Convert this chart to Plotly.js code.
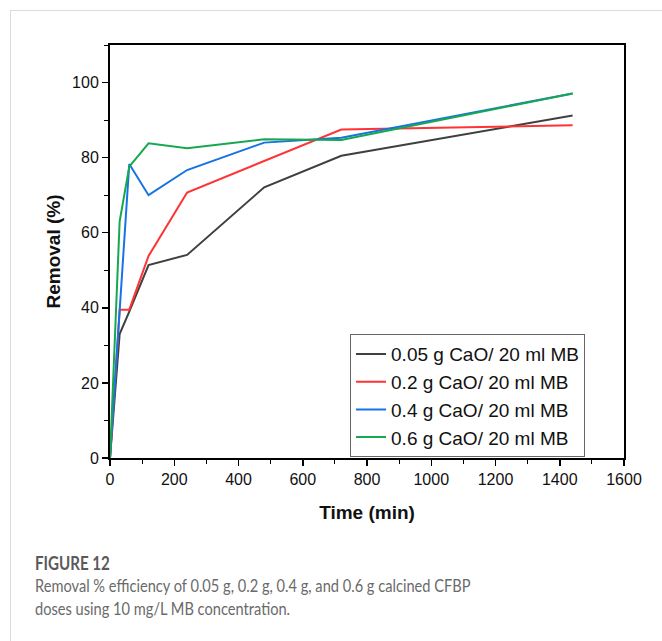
<!DOCTYPE html>
<html><head><meta charset="utf-8">
<script src="https://cdn.plot.ly/plotly-3.0.1.min.js"></script>
<style>
html,body{margin:0;padding:0;background:#fff;}
#frame{position:absolute;left:10px;top:10px;width:800px;height:800px;border:1px solid #dcdcdc;box-sizing:border-box;}
#chart{position:absolute;left:0;top:0;width:662px;height:641px;}
.cap{position:absolute;left:35px;font-family:Lato,'Noto Sans',sans-serif;transform-origin:left center;white-space:nowrap;}
#figlabel{top:552px;font-size:18px;color:#5a5a5a;font-weight:bold;transform:scaleX(0.84);}
#captext{top:574px;font-size:17px;line-height:23px;color:#6a6a6a;transform:scaleX(0.86);transform-origin:left top;}
</style></head>
<body>
<div id="frame"></div>
<div id="chart"></div>
<div id="figlabel" class="cap">FIGURE 12</div>
<div id="captext" class="cap">Removal % efficiency of 0.05 g, 0.2 g, 0.4 g, and 0.6 g calcined CFBP<br>doses using 10 mg/L MB concentration.</div>
<script>
const time = [0, 30, 60, 120, 240, 480, 720, 1440];
const dose005 = [0, 33, 39, 51.4, 54.1, 72.1, 80.5, 91.2];
const dose02  = [0, 39.5, 39.5, 53.8, 70.7, 79, 87.5, 88.6];
const dose04  = [0, 40, 78.3, 70.0, 76.7, 84.0, 85.3, 97.1];
const dose06  = [0, 63, 77.6, 83.8, 82.5, 84.9, 84.7, 97.1];
const seriesNames = ["0.05 g CaO/ 20 ml MB","0.2 g CaO/ 20 ml MB","0.4 g CaO/ 20 ml MB","0.6 g CaO/ 20 ml MB"];
const colors = ["#3f3f3f","#ff3333","#1673e6","#17a84f"];
const ys = [dose005, dose02, dose04, dose06];

const traces = ys.map((y,i)=>({x:time,y:y,name:seriesNames[i],type:'scatter',mode:'lines',
  line:{color:colors[i],width:2}}));

const F = 'Arial';
const axisCommon = {showgrid:false,zeroline:false,showline:true,linecolor:'#000',linewidth:2,
  mirror:true,ticks:'outside',ticklen:6,tickwidth:1.5,tickcolor:'#000',
  tickfont:{family:F,size:16,color:'#111'}};

const layout = {
  width:662,height:641,
  paper_bgcolor:'rgba(0,0,0,0)',plot_bgcolor:'#fff',
  margin:{l:110,r:38,t:45,b:183},
  showlegend:true,
  legend:{x:0.467,y:0.002,xanchor:'left',yanchor:'bottom',bgcolor:'#fff',bordercolor:'#666',borderwidth:1,
    font:{family:F,size:19,color:'#111'},tracegroupgap:0},
  xaxis:Object.assign({},axisCommon,{range:[0,1600],dtick:200,tick0:0,
    minor:{dtick:100,ticks:'outside',ticklen:4,tickcolor:'#000',tickwidth:1},
    title:{text:'<b>Time (min)</b>',font:{family:F,size:19,color:'#111'},standoff:18}}),
  yaxis:Object.assign({},axisCommon,{range:[0,110],dtick:20,tick0:0,
    minor:{dtick:10,ticks:'outside',ticklen:4,tickcolor:'#000',tickwidth:1},
    title:{text:'<b>Removal (%)</b>',font:{family:F,size:19,color:'#111'},standoff:6}})
};
Plotly.newPlot('chart',traces,layout,{displayModeBar:false,staticPlot:true});
</script>
</body></html>
